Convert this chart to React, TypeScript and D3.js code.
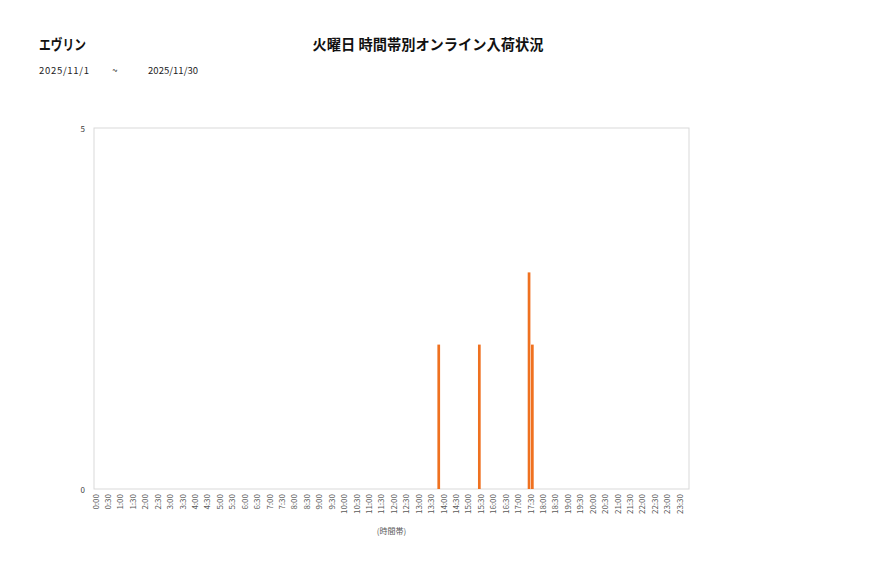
import React from "react";
import * as d3 from "d3";

const timeSlots: string[] = [
  "0:00", "0:30", "1:00", "1:30", "2:00", "2:30", "3:00", "3:30",
  "4:00", "4:30", "5:00", "5:30", "6:00", "6:30", "7:00", "7:30",
  "8:00", "8:30", "9:00", "9:30", "10:00", "10:30", "11:00", "11:30",
  "12:00", "12:30", "13:00", "13:30", "14:00", "14:30", "15:00", "15:30",
  "16:00", "16:30", "17:00", "17:30", "18:00", "18:30", "19:00", "19:30",
  "20:00", "20:30", "21:00", "21:30", "22:00", "22:30", "23:00", "23:30",
];

const seriesNames: string[] = ["系列1", "系列2", "系列3"];

const series1: number[] = [
  0, 0, 0, 0, 0, 0, 0, 0, 0, 0, 0, 0, 0, 0, 0, 0,
  0, 0, 0, 0, 0, 0, 0, 0, 0, 0, 0, 0, 2, 0, 0, 0,
  0, 0, 0, 0, 0, 0, 0, 0, 0, 0, 0, 0, 0, 0, 0, 0,
];
const series2: number[] = [
  0, 0, 0, 0, 0, 0, 0, 0, 0, 0, 0, 0, 0, 0, 0, 0,
  0, 0, 0, 0, 0, 0, 0, 0, 0, 0, 0, 0, 0, 0, 0, 2,
  0, 0, 0, 3, 0, 0, 0, 0, 0, 0, 0, 0, 0, 0, 0, 0,
];
const series3: number[] = [
  0, 0, 0, 0, 0, 0, 0, 0, 0, 0, 0, 0, 0, 0, 0, 0,
  0, 0, 0, 0, 0, 0, 0, 0, 0, 0, 0, 0, 0, 0, 0, 0,
  0, 0, 0, 2, 0, 0, 0, 0, 0, 0, 0, 0, 0, 0, 0, 0,
];
const seriesValues: number[][] = [series1, series2, series3];

const yTicks: number[] = [0, 5];

const titleText = "火曜日 時間帯別オンライン入荷状況";
const storeName = "エヴリン";
const dateFrom = "2025/11/1";
const dateSep = "~";
const dateTo = "2025/11/30";
const xAxisTitle = "(時間帯)";

const FONT = "'Noto Sans CJK JP', 'Noto Sans', sans-serif";
const BAR_COLOR = "#EF7120";

export default function App() {
  const W = 877;
  const H = 578;
  const plotLeft = 94;
  const plotRight = 689;
  const plotTop = 128;
  const plotBottom = 489;

  const step = 12.43;
  const x = d3
    .scaleBand<string>()
    .domain(timeSlots)
    .range([plotLeft - step / 2, plotLeft - step / 2 + step * timeSlots.length])
    .padding(0);

  const inner = d3
    .scaleBand<string>()
    .domain(seriesNames)
    .range([-4.65, 4.65])
    .paddingInner(0.18)
    .paddingOuter(0);

  const y = d3.scaleLinear().domain([0, 5]).range([plotBottom, plotTop]);

  const center = (t: string) => (x(t) ?? 0) + x.bandwidth() / 2;

  return (
    <svg
      width={W}
      height={H}
      style={{ position: "absolute", left: 0, top: 0, background: "#fff" }}
      fontFamily={FONT}
    >
      <rect x={0} y={0} width={W} height={H} fill="#fff" />
      {/* Header */}
      <text
        x={39}
        y={50}
        fontSize={14.5}
        fontWeight={600}
        fill="#111"
        textLength={47}
        lengthAdjust="spacingAndGlyphs"
      >
        {storeName}
      </text>
      <text
        x={312.5}
        y={50}
        fontSize={14.5}
        fontWeight={600}
        fill="#111"
        textLength={231}
        lengthAdjust="spacingAndGlyphs"
      >
        {titleText}
      </text>
      <text x={39} y={73.5} fontSize={9.5} fill="#222" textLength={50} lengthAdjust="spacing">
        {dateFrom}
      </text>
      <text x={115} y={73.5} fontSize={9.5} fill="#222" textAnchor="middle">
        {dateSep}
      </text>
      <text x={148} y={73.5} fontSize={9.5} fill="#222" textLength={50} lengthAdjust="spacing">
        {dateTo}
      </text>

      {/* Plot frame */}
      <rect
        x={plotLeft}
        y={plotTop}
        width={plotRight - plotLeft}
        height={plotBottom - plotTop}
        fill="none"
        stroke="#D9D9D9"
        strokeWidth={1}
      />

      {/* Bars */}
      {seriesValues.map((vals, si) =>
        vals.map((v, i) =>
          v > 0 ? (
            <rect
              key={`b-${si}-${i}`}
              x={center(timeSlots[i]) + (inner(seriesNames[si]) ?? 0)}
              y={y(v)}
              width={inner.bandwidth()}
              height={y(0) - y(v)}
              fill={BAR_COLOR}
            />
          ) : null
        )
      )}

      {/* Y axis labels */}
      {yTicks.map((t) => (
        <text
          key={`y-${t}`}
          x={85}
          y={y(t)}
          fontSize={8}
          fill="#404040"
          textAnchor="end"
          dominantBaseline="central"
        >
          {t}
        </text>
      ))}

      {/* X axis labels */}
      {timeSlots.map((t) => {
        const cx = center(t) + 1;
        const ty = 494;
        return (
          <text
            key={`x-${t}`}
            x={cx}
            y={ty}
            fontSize={8}
            fill="#595959"
            textAnchor="end"
            dominantBaseline="central"
            transform={`rotate(-90, ${cx}, ${ty})`}
          >
            {t}
          </text>
        );
      })}

      <text
        x={(plotLeft + plotRight) / 2}
        y={530}
        fontSize={8}
        fill="#595959"
        textAnchor="middle"
        dominantBaseline="central"
      >
        {xAxisTitle}
      </text>
    </svg>
  );
}
